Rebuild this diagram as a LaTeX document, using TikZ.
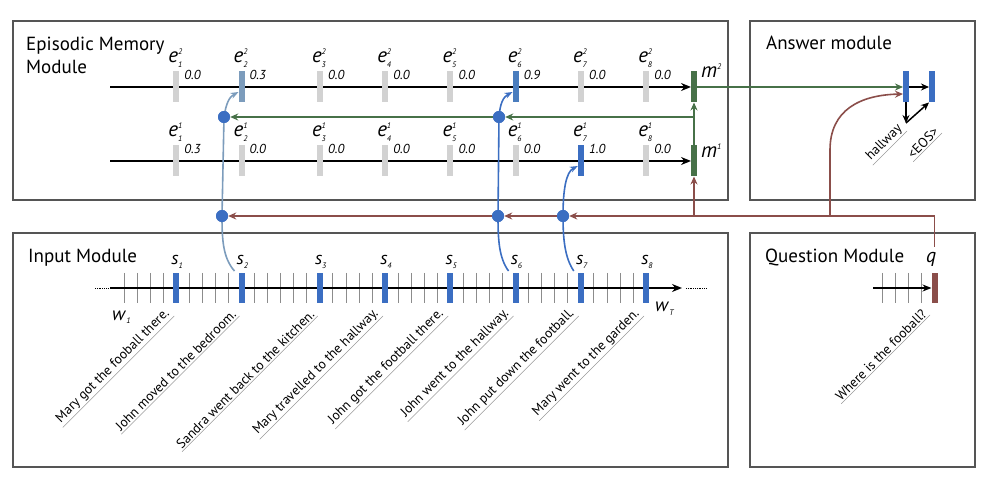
\documentclass[tikz,border=0pt]{standalone}
\usepackage{fontspec}
\setmainfont{PT Sans}
\usetikzlibrary{arrows.meta}
\definecolor{sentblue}{RGB}{59,110,194}
\definecolor{weakblue}{RGB}{124,156,188}
\definecolor{strongblue}{RGB}{74,125,190}
\definecolor{memgreen}{RGB}{71,113,72}
\definecolor{qbrown}{RGB}{139,78,74}
\definecolor{idlegray}{RGB}{210,210,210}
\definecolor{boxgray}{RGB}{85,85,85}

\newcommand{\idx}[3]{\textit{#1}\makebox[0pt][l]{\raisebox{0.42em}{\fontsize{8}{8}\selectfont\itshape #3}}\raisebox{-0.2em}{\fontsize{8}{8}\selectfont\itshape #2}}

\tikzset{
  module/.style={draw=boxgray,line width=1.2pt},
  modtitle/.style={anchor=base west,inner sep=0pt,align=left,font=\fontsize{19}{23}\selectfont},
  timeline/.style={line width=2pt,-{Stealth[length=10pt,width=8pt]}},
  wordtick/.style={draw=black!45,line width=0.8pt},
  vecbar/.style={minimum width=6pt,minimum height=31pt,inner sep=0pt,outer sep=0pt},
  elabel/.style={anchor=base west,inner sep=0pt,font=\fontsize{21}{21}\selectfont},
  score/.style={anchor=base west,inner sep=0pt,font=\fontsize{13}{13}\selectfont\itshape},
  sentence/.style={rotate=45,anchor=south east,inner sep=1.5pt,font=\fontsize{13.5}{14}\selectfont},
  underline/.style={draw=black!40,line width=0.5pt},
  gate/.style={circle,fill=sentblue,minimum size=12pt,inner sep=0pt},
  attn/.style={line width=1.6pt,-{Stealth[length=8pt,width=6pt]}},
  feed/.style={draw=memgreen,line width=1.6pt,-{Stealth[length=8pt,width=7pt]}},
  qflow/.style={draw=qbrown,line width=1.6pt,-{Stealth[length=8pt,width=7pt]}},
}

\begin{document}
\begin{tikzpicture}[x=1pt,y=-1pt]
  \useasboundingbox (0,0) rectangle (988,486);
  \def\ytop{87}
  \def\ybot{161}
  \def\yin{288}

  \draw[module] (13,21) rectangle (728,200);
  \draw[module] (750,21) rectangle (975,200);
  \draw[module] (13,233) rectangle (728,467);
  \draw[module] (750,233) rectangle (975,467);

  \node[modtitle] at (26,74) {Episodic Memory\\Module};
  \node[modtitle] at (766,50) {Answer module};
  \node[modtitle] at (28,263) {Input Module};
  \node[modtitle] at (765,263) {Question Module};

  % episodic memory
  \node[vecbar,fill=memgreen] (m2) at (694,\ytop) {};
  \node[vecbar,fill=memgreen] (m1) at (694,\ybot) {};
  \draw[timeline] (110,\ytop) -- (m2.west);
  \draw[timeline] (110,\ybot) -- (m1.west);
  \node[elabel] at (701,78) {\idx{m}{}{2}};
  \node[elabel] at (701,158) {\idx{m}{}{1}};
  \foreach \k/\i/\ca/\cb/\va/\vb in {5/1/idlegray/idlegray/0.0/0.3,
      10/2/weakblue/idlegray/0.3/0.0, 16/3/idlegray/idlegray/0.0/0.0,
      21/4/idlegray/idlegray/0.0/0.0, 26/5/idlegray/idlegray/0.0/0.0,
      31/6/strongblue/idlegray/0.9/0.0, 36/7/idlegray/sentblue/0.0/1.0,
      41/8/idlegray/idlegray/0.0/0.0}{
    \pgfmathsetmacro\x{111+13.05*\k}
    \node[vecbar,fill=\ca] (e2-\i) at (\x,\ytop) {};
    \node[vecbar,fill=\cb] (e1-\i) at (\x,\ybot) {};
    \node[elabel] at (\x-8,63) {\idx{e}{\i}{2}};
    \node[elabel] at (\x-8,137) {\idx{e}{\i}{1}};
    \node[score] at (\x+8,80) {\va};
    \node[score] at (\x+8,154) {\vb};
  }

  % input module
  \foreach \k in {1,...,41}
    \draw[wordtick] ({111+13.05*\k},273) -- ++(0,30);
  \draw[timeline] (110,\yin) -- (682,\yin);
  \draw[line width=0.8pt,densely dotted] (95,\yin) -- (108,\yin);
  \draw[line width=0.8pt,densely dotted] (686,\yin) -- (707,\yin);
  \foreach \k/\i/\t in {5/1/Mary got the fooball there.,
      10/2/John moved to the bedroom., 16/3/Sandra went back to the kitchen.,
      21/4/Mary travelled to the hallway., 26/5/John got the football there.,
      31/6/John went to the hallway., 36/7/John put down the football.,
      41/8/Mary went to the garden.}{
    \pgfmathsetmacro\x{111+13.05*\k}
    \node[vecbar,fill=sentblue,minimum height=30pt] (s\i) at (\x,\yin) {};
    \node[elabel,font=\fontsize{18}{18}\selectfont] at (\x-5,265) {\idx{s}{\i}{}};
    \node[sentence] (t\i) at (\x-2,316) {\t};
    \draw[underline] (t\i.south east) -- (t\i.south west);
  }
  \node[elabel,font=\fontsize{19}{19}\selectfont] (w1) at (112,320) {\idx{w}{1}{}};
  \node[elabel,font=\fontsize{19}{19}\selectfont] (wT) at (655,312) {\idx{w}{T}{}};

  % question module
  \foreach \x in {882,895,908,921}
    \draw[wordtick] (\x,273) -- ++(0,30);
  \node[vecbar,fill=qbrown,minimum height=30pt] (q) at (934.5,\yin) {};
  \draw[line width=1.6pt,-{Stealth[length=9pt,width=7pt]}] (873,\yin) -- (q.west);
  \node[elabel,font=\fontsize{20}{20}\selectfont] (qlab) at (926,263) {\textit{q}};
  \node[sentence] (tq) at (930,315) {Where is the fooball?};
  \draw[underline] (tq.south east) -- (tq.south west);

  % answer module
  \node[vecbar,fill=sentblue] (a1) at (906,\ytop) {};
  \node[vecbar,fill=sentblue] (a2) at (932,\ytop) {};
  \coordinate (aout) at (906,123);
  \draw[line width=1.5pt,-{Stealth[length=8pt,width=7pt]}] (a1.east) -- (a2.west);
  \draw[line width=1.5pt,-{Stealth[length=8pt,width=7pt]}] (a1.south) -- (aout);
  \draw[line width=1.5pt,-{Stealth[length=8pt,width=7pt]}] (aout) -- (a2.south west);
  \node[sentence] (h1) at (907,131) {hallway};
  \draw[underline] (h1.south east) -- (h1.south west);
  \node[sentence] (h2) at (942,133) {<EOS>};
  \draw[underline] (h2.south east) -- (h2.south west);

  % gates and flows
  \node[gate] (d1) at (222,216) {};
  \node[gate] (d2) at (498,216) {};
  \node[gate] (d3) at (563,216) {};
  \node[gate] (d4) at (224,117) {};
  \node[gate] (d5) at (499,117) {};

  \draw[attn,weakblue] ([xshift=-7pt,yshift=2pt]s2.north) .. controls (223,258) and (222,240) .. (d1.center)
    -- (d4.center) .. controls (226,104) and (229,97) .. ([yshift=-5pt]e2-2.west);
  \draw[attn,sentblue] ([xshift=-7pt,yshift=2pt]s6.north) .. controls (499,258) and (498,240) .. (d2.center)
    -- (d5.center) .. controls (500,104) and (503,97) .. ([yshift=-5pt]e2-6.west);
  \draw[attn,sentblue] ([xshift=-7pt,yshift=2pt]s7.north) .. controls (565,258) and (563,240) .. (d3.center)
    .. controls (563,190) and (566,172) .. ([yshift=-5pt]e1-7.west);

  \coordinate (gfork) at (m1 |- d4);
  \draw[feed] (m1.north) -- (m2.south);
  \draw[feed] (gfork) -- (d5.east);
  \draw[feed] (d5.west) -- (d4.east);
  \draw[feed] (m2.east) -- (a1.west);

  \coordinate (qtop) at (934.5,247);
  \coordinate (abranch) at (830,216);
  \draw[qflow] (qtop) |- (d3.east);
  \draw[qflow] (d3.west) -- (d2.east);
  \draw[qflow] (d2.west) -- (d1.east);
  \draw[qflow] (m1 |- d1) -- (m1.south);
  \draw[qflow] (abranch) -- (830,150) .. controls (830,110) and (860,95) .. ([yshift=-7pt]a1.west);

  \node[gate] at (d1) {};
  \node[gate] at (d2) {};
  \node[gate] at (d3) {};
  \node[gate] at (d4) {};
  \node[gate] at (d5) {};
\end{tikzpicture}
\end{document}
